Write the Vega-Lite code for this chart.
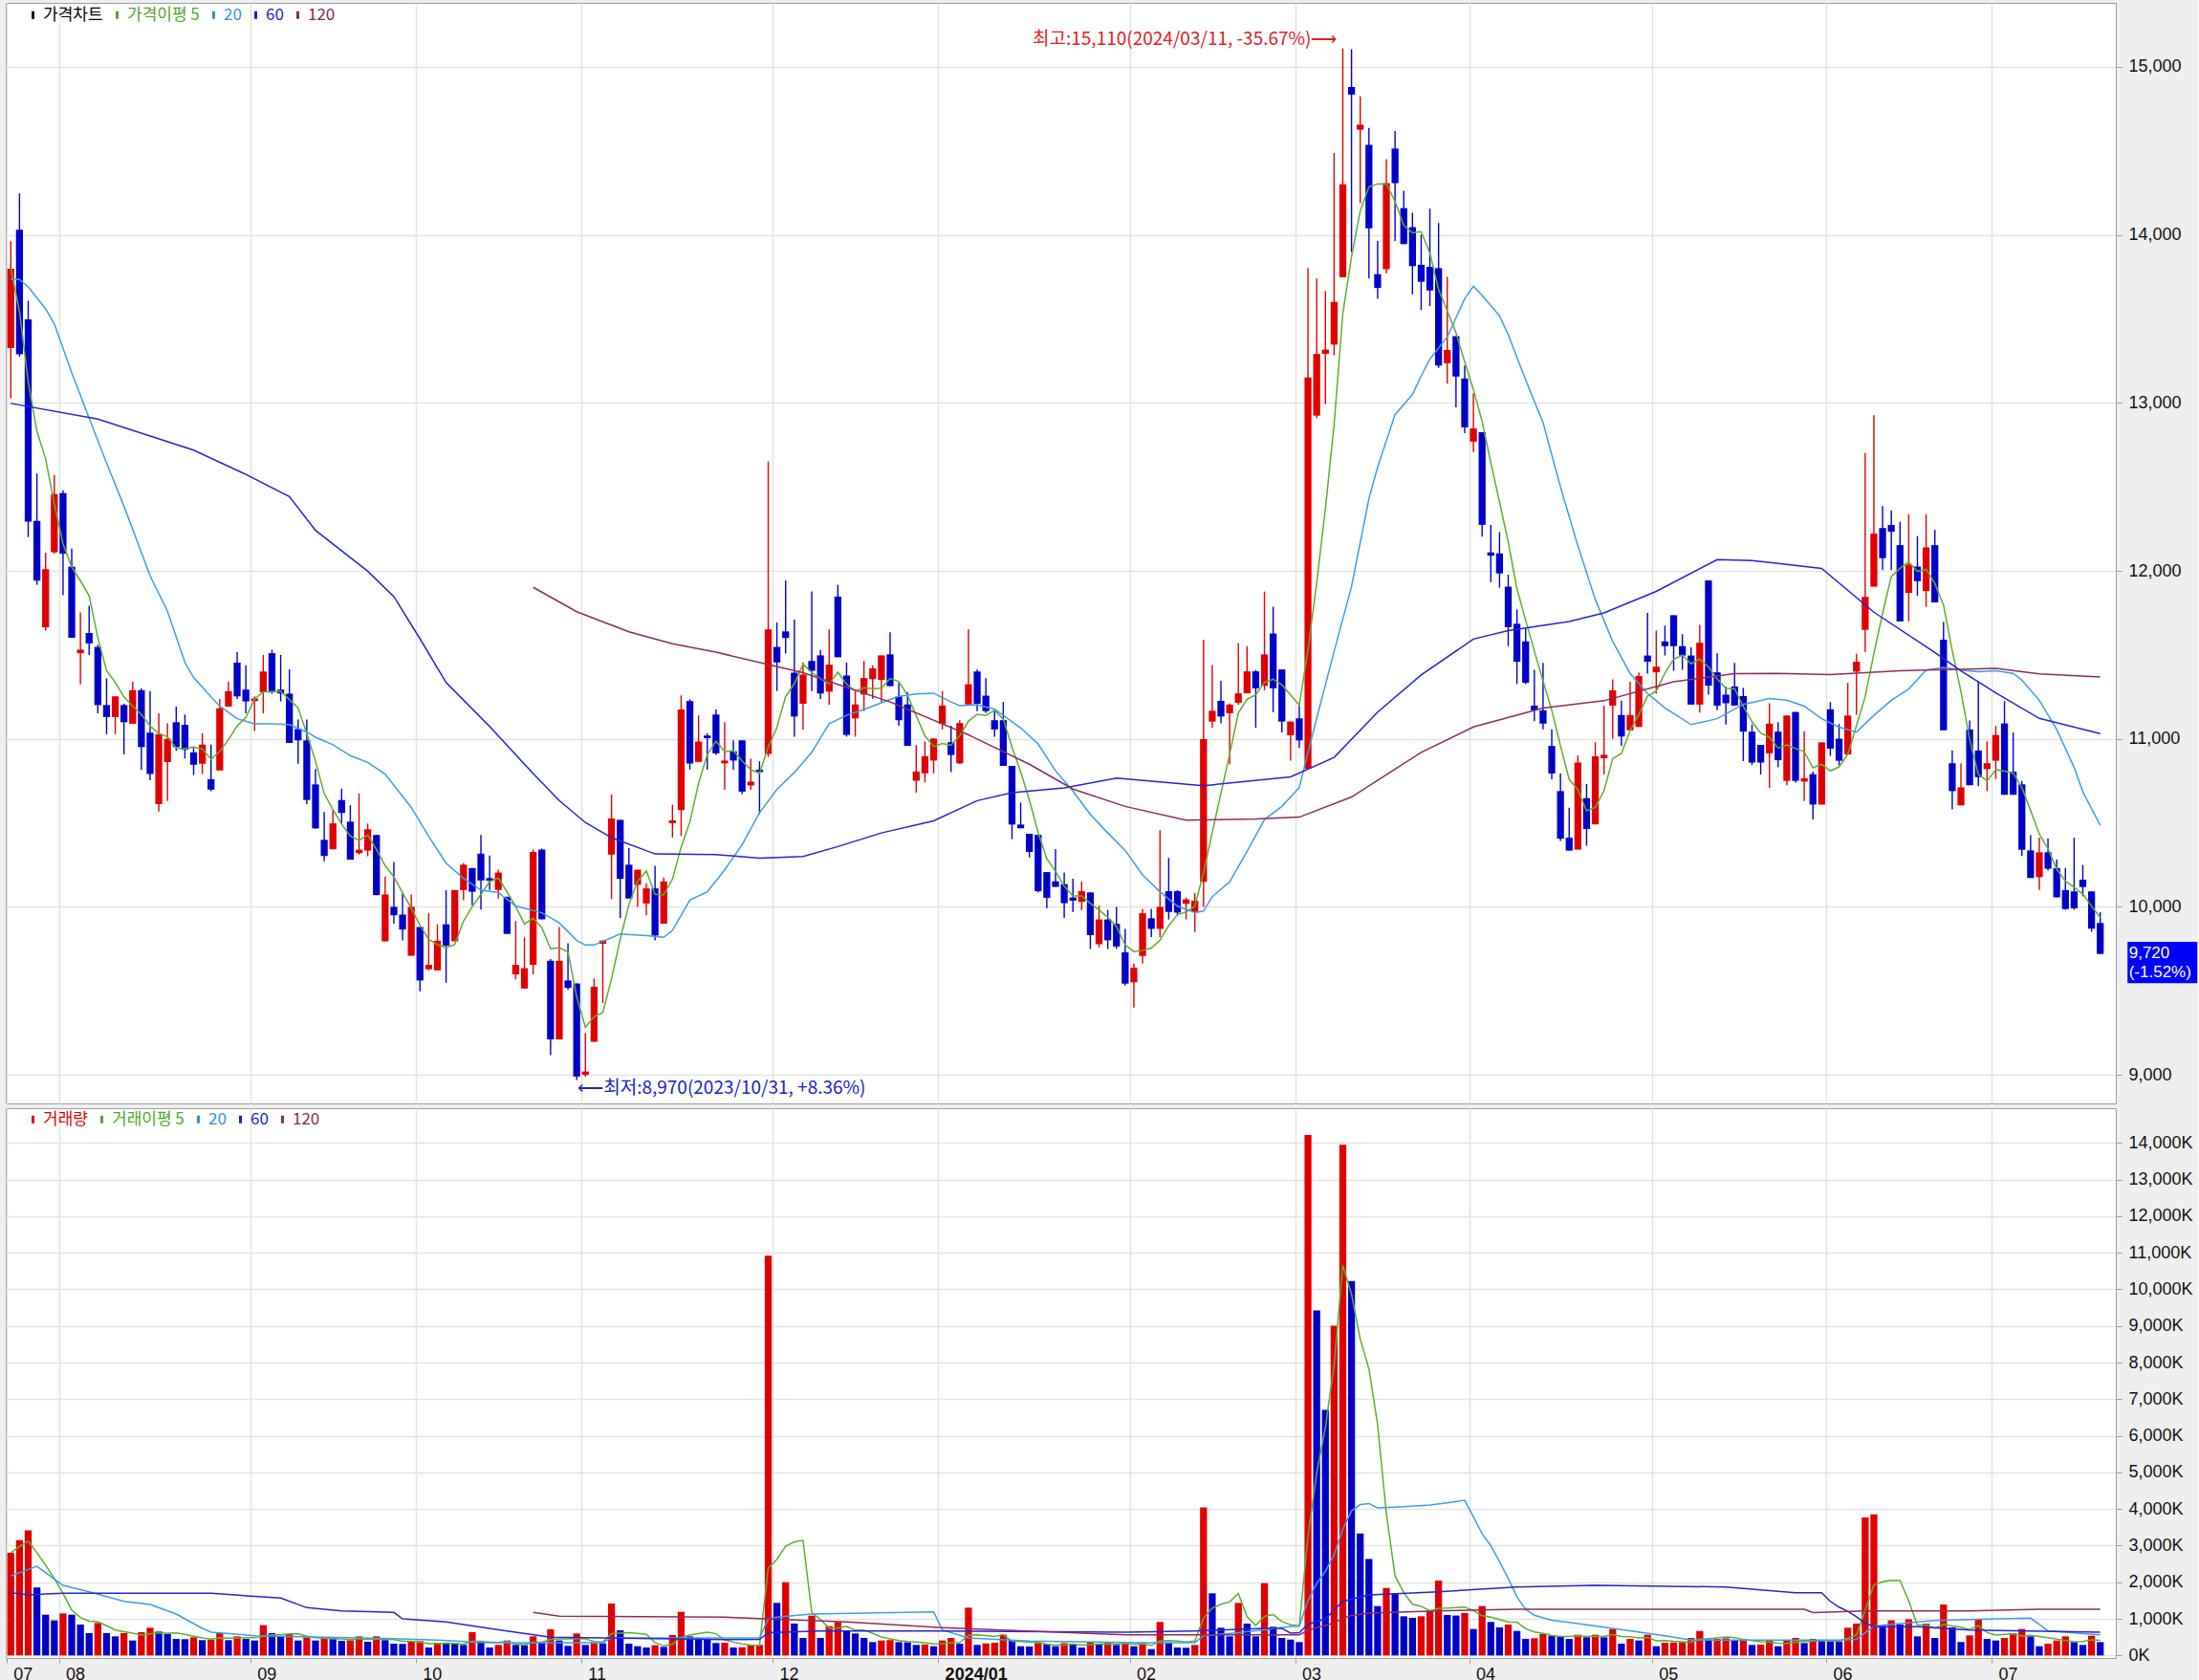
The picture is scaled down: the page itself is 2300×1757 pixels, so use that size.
{
"$schema":"https://vega.github.io/schema/vega-lite/v6.json",
"background":"#efefef",
"padding":{"left":5,"top":2,"right":0,"bottom":0},
"config":{
"view":{"stroke":"#9c9c9c","strokeWidth":1,"fill":"#ffffff"},
"axis":{"gridColor":"#e4e4e4","gridWidth":1.5,"domain":false,"tickColor":"#9c9c9c","labelColor":"#111111","labelFont":"Liberation Sans Narrow, Liberation Sans, sans-serif","labelFontSize":18,"title":null}
},
"data":{"values":[
{"d":"2023-07-24","o":13327,"h":13963,"l":13028,"c":13799,"v":2801,"m20":13738,"m60":12997,"w20":2175,"w60":1714},
{"d":"2023-07-25","o":14031,"h":14247,"l":13275,"c":13290,"v":3149,"m20":13735},
{"d":"2023-07-26","o":13497,"h":13608,"l":12201,"c":12293,"v":3419,"m20":13691,"w60":1653},
{"d":"2023-07-27","o":12297,"h":12580,"l":11917,"c":11942,"v":1853,"w20":2436},
{"d":"2023-07-28","o":11664,"h":12108,"l":11645,"c":12010,"v":1114,"m20":13560,"w60":1679},
{"d":"2023-07-31","o":12111,"h":12571,"l":12102,"c":12457,"v":957,"m20":13470,"w20":2088},
{"d":"2023-08-01","o":12463,"h":12480,"l":11855,"c":12102,"v":1148,"w20":1914,"w60":1697},
{"d":"2023-08-02","o":12025,"h":12133,"l":11602,"c":11602,"v":1114,"m20":13180},
{"d":"2023-08-03","o":11510,"h":11753,"l":11324,"c":11531,"v":844},
{"d":"2023-08-04","o":11630,"h":11793,"l":11500,"c":11568,"v":609,"m20":12910,"w20":1740},
{"d":"2023-08-07","o":11547,"h":11560,"l":11152,"c":11201,"v":887,"m60":12904},
{"d":"2023-08-08","o":11201,"h":11361,"l":11028,"c":11130,"v":609,"m20":12642},
{"d":"2023-08-09","o":11130,"h":11253,"l":11028,"c":11253,"v":522},
{"d":"2023-08-10","o":11201,"h":11210,"l":10908,"c":11099,"v":609,"m20":12385,"w20":1479},
{"d":"2023-08-11","o":11090,"h":11340,"l":11090,"c":11290,"v":409},
{"d":"2023-08-14","o":11290,"h":11300,"l":10815,"c":10951,"v":635,"m20":12110},
{"d":"2023-08-16","o":11037,"h":11284,"l":10754,"c":10791,"v":757,"m20":11970,"w20":1392},
{"d":"2023-08-17","o":10612,"h":11152,"l":10568,"c":11028,"v":652},
{"d":"2023-08-18","o":10862,"h":11093,"l":10630,"c":11000,"v":583,"m20":11760},
{"d":"2023-08-21","o":11099,"h":11192,"l":10929,"c":10951,"v":452,"w20":1131},
{"d":"2023-08-22","o":11084,"h":11145,"l":10883,"c":10935,"v":445,"m20":11455},
{"d":"2023-08-23","o":10920,"h":10954,"l":10785,"c":10846,"v":496,"m20":11365,"m60":12719},
{"d":"2023-08-24","o":10852,"h":11034,"l":10791,"c":10966,"v":418,"w20":740},
{"d":"2023-08-25","o":10760,"h":10966,"l":10689,"c":10698,"v":430,"m20":11250,"w20":635,"w60":1697},
{"d":"2023-08-28","o":10812,"h":11238,"l":10812,"c":11182,"v":609,"m20":11195},
{"d":"2023-08-29","o":11192,"h":11340,"l":11192,"c":11284,"v":418},
{"d":"2023-08-30","o":11454,"h":11516,"l":11238,"c":11253,"v":522,"m20":11120},
{"d":"2023-08-31","o":11293,"h":11438,"l":11152,"c":11223,"v":452,"m60":12574},
{"d":"2023-09-01","o":11225,"h":11253,"l":11047,"c":11240,"v":409,"m20":11090,"w20":539},
{"d":"2023-09-04","o":11278,"h":11500,"l":11152,"c":11401,"v":827},
{"d":"2023-09-05","o":11510,"h":11531,"l":11269,"c":11284,"v":609,"m20":11090},
{"d":"2023-09-06","o":11293,"h":11500,"l":11223,"c":11270,"v":522,"w60":1566},
{"d":"2023-09-07","o":11269,"h":11414,"l":10976,"c":10976,"v":583,"m20":11085,"m60":12442},
{"d":"2023-09-08","o":11059,"h":11115,"l":10852,"c":10991,"v":409},
{"d":"2023-09-11","o":10991,"h":11115,"l":10612,"c":10636,"v":496,"m20":11040,"w60":1305},
{"d":"2023-09-12","o":10729,"h":10821,"l":10467,"c":10467,"v":409,"m20":11010,"m60":12241},
{"d":"2023-09-13","o":10399,"h":10565,"l":10272,"c":10303,"v":478,"w20":496},
{"d":"2023-09-14","o":10343,"h":10575,"l":10343,"c":10497,"v":470,"m20":10965},
{"d":"2023-09-15","o":10636,"h":10704,"l":10497,"c":10559,"v":400,"w60":1218},
{"d":"2023-09-18","o":10507,"h":10605,"l":10281,"c":10281,"v":415,"m20":10900},
{"d":"2023-09-19","o":10320,"h":10675,"l":10310,"c":10340,"v":522},
{"d":"2023-09-20","o":10335,"h":10496,"l":10301,"c":10462,"v":374,"m20":10860,"m60":11998},
{"d":"2023-09-21","o":10428,"h":10430,"l":10070,"c":10070,"v":522},
{"d":"2023-09-22","o":9795,"h":10181,"l":9795,"c":10074,"v":418,"m20":10790},
{"d":"2023-09-25","o":10000,"h":10267,"l":9900,"c":9950,"v":322,"m60":11847,"w20":461,"w60":1175},
{"d":"2023-09-26","o":9954,"h":10080,"l":9800,"c":9865,"v":315,"w60":1000},
{"d":"2023-09-27","o":9709,"h":10074,"l":9709,"c":10000,"v":374,"m20":10592},
{"d":"2023-10-04","o":9880,"h":9880,"l":9498,"c":9562,"v":391,"m60":11596},
{"d":"2023-10-05","o":9629,"h":9964,"l":9622,"c":9655,"v":217,"m20":10420},
{"d":"2023-10-06","o":9622,"h":9896,"l":9622,"c":9799,"v":348,"w20":418},
{"d":"2023-10-10","o":9896,"h":10100,"l":9548,"c":9769,"v":340,"m20":10260,"m60":11335,"w60":914},
{"d":"2023-10-11","o":9795,"h":10100,"l":9795,"c":10100,"v":335},
{"d":"2023-10-12","o":10100,"h":10261,"l":10040,"c":10251,"v":287,"m20":10170},
{"d":"2023-10-13","o":10231,"h":10231,"l":10010,"c":10090,"v":635},
{"d":"2023-10-16","o":10317,"h":10428,"l":9984,"c":10157,"v":348,"m20":10100},
{"d":"2023-10-17","o":10171,"h":10305,"l":10100,"c":10155,"v":217,"m60":11074,"w20":348},
{"d":"2023-10-18","o":10100,"h":10221,"l":10050,"c":10205,"v":287,"m20":10085},
{"d":"2023-10-19","o":10060,"h":10060,"l":9839,"c":9839,"v":409,"w60":670},
{"d":"2023-10-20","o":9598,"h":9916,"l":9568,"c":9655,"v":287,"m20":10005},
{"d":"2023-10-23","o":9514,"h":9819,"l":9514,"c":9635,"v":280},
{"d":"2023-10-24","o":9655,"h":10341,"l":9598,"c":10327,"v":522,"m60":10793,"m120":11902,"w120":1175},
{"d":"2023-10-25","o":10341,"h":10347,"l":9926,"c":9926,"v":348,"m20":9965},
{"d":"2023-10-26","o":9679,"h":9689,"l":9117,"c":9211,"v":713,"w60":496},
{"d":"2023-10-27","o":9211,"h":9880,"l":9211,"c":9679,"v":409,"m20":9905,"m60":10633,"w120":1070},
{"d":"2023-10-30","o":9562,"h":9783,"l":9508,"c":9518,"v":261},
{"d":"2023-10-31","o":9544,"h":9544,"l":8970,"c":8990,"v":600,"m20":9800,"m120":11757},
{"d":"2023-11-01","o":9000,"h":9250,"l":8990,"c":9020,"v":287,"m20":9773,"m60":10502},
{"d":"2023-11-02","o":9197,"h":9574,"l":9197,"c":9524,"v":339,"m20":9773,"w20":348},
{"d":"2023-11-03","o":9780,"h":9800,"l":9428,"c":9800,"v":330,"w20":348,"w60":478},
{"d":"2023-11-06","o":10311,"h":10669,"l":10046,"c":10526,"v":1418,"m60":10412,"w20":478},
{"d":"2023-11-07","o":10518,"h":10518,"l":9934,"c":10167,"v":687,"m20":9839},
{"d":"2023-11-08","o":10251,"h":10351,"l":10050,"c":10050,"v":322,"m120":11637},
{"d":"2023-11-09","o":10131,"h":10221,"l":10000,"c":10221,"v":252},
{"d":"2023-11-10","o":10020,"h":10141,"l":9950,"c":10110,"v":217,"m20":9829},
{"d":"2023-11-13","o":10110,"h":10245,"l":9800,"c":9829,"v":278,"m60":10315},
{"d":"2023-11-14","o":9900,"h":10175,"l":9900,"c":10151,"v":235,"m20":9819},
{"d":"2023-11-15","o":10498,"h":10608,"l":10412,"c":10515,"v":557,"m20":9860,"m120":11566},
{"d":"2023-11-16","o":10576,"h":11259,"l":10422,"c":11175,"v":1192},
{"d":"2023-11-17","o":11225,"h":11235,"l":10817,"c":10853,"v":522,"m20":10040},
{"d":"2023-11-20","o":10863,"h":11139,"l":10863,"c":10984,"v":461},
{"d":"2023-11-21","o":11020,"h":11034,"l":10817,"c":11004,"v":455,"m20":10090},
{"d":"2023-11-22","o":11145,"h":11175,"l":10904,"c":10914,"v":339,"m60":10311,"m120":11516},
{"d":"2023-11-23","o":10854,"h":11100,"l":10697,"c":10871,"v":350,"m20":10220,"w60":435,"w120":1044},
{"d":"2023-11-24","o":10926,"h":10991,"l":10817,"c":10871,"v":217},
{"d":"2023-11-27","o":10991,"h":10991,"l":10671,"c":10686,"v":225,"m20":10370},
{"d":"2023-11-28","o":10723,"h":10882,"l":10697,"c":10745,"v":278},
{"d":"2023-11-29","o":10817,"h":10867,"l":10551,"c":10802,"v":287,"m20":10560,"m60":10290,"w20":478,"w60":440},
{"d":"2023-11-30","o":10910,"h":12652,"l":10893,"c":11651,"v":10920,"w20":1000,"w60":620},
{"d":"2023-12-01","o":11547,"h":11693,"l":11285,"c":11455,"v":1436,"m20":10700,"w20":1044},
{"d":"2023-12-04","o":11640,"h":11943,"l":11508,"c":11601,"v":2001},
{"d":"2023-12-05","o":11394,"h":11710,"l":11013,"c":11133,"v":870,"m20":10800},
{"d":"2023-12-06","o":11209,"h":11455,"l":11056,"c":11383,"v":478,"m60":10300,"m120":11394},
{"d":"2023-12-07","o":11464,"h":11878,"l":11285,"c":11405,"v":1088,"m20":10920,"w20":1131},
{"d":"2023-12-08","o":11497,"h":11529,"l":11237,"c":11270,"v":478,"w60":670},
{"d":"2023-12-11","o":11281,"h":11651,"l":11203,"c":11442,"v":800,"m20":11090},
{"d":"2023-12-12","o":11847,"h":11917,"l":11486,"c":11486,"v":914,"m60":10359},
{"d":"2023-12-13","o":11377,"h":11455,"l":11013,"c":11024,"v":670,"m20":11140,"w120":914},
{"d":"2023-12-14","o":11122,"h":11285,"l":11013,"c":11205,"v":600},
{"d":"2023-12-15","o":11264,"h":11464,"l":11165,"c":11362,"v":478,"m20":11175},
{"d":"2023-12-18","o":11355,"h":11438,"l":11237,"c":11420,"v":365},
{"d":"2023-12-19","o":11351,"h":11497,"l":11220,"c":11497,"v":409,"m20":11215,"m60":10440},
{"d":"2023-12-20","o":11503,"h":11634,"l":11314,"c":11314,"v":420,"m120":11220},
{"d":"2023-12-21","o":11253,"h":11333,"l":11078,"c":11111,"v":365,"m20":11253},
{"d":"2023-12-22","o":11205,"h":11279,"l":10958,"c":10958,"v":360},
{"d":"2023-12-26","o":10751,"h":10963,"l":10680,"c":10806,"v":287,"m20":11268},
{"d":"2023-12-27","o":10795,"h":10985,"l":10741,"c":10897,"v":300},
{"d":"2023-12-28","o":10871,"h":11002,"l":10795,"c":11002,"v":252,"m20":11272,"m60":10512,"w20":1192},
{"d":"2024-01-02","o":11089,"h":11285,"l":11056,"c":11198,"v":409,"w20":696,"w60":670,"w120":757},
{"d":"2024-01-03","o":10980,"h":11078,"l":10802,"c":10904,"v":478,"m20":11220},
{"d":"2024-01-04","o":10854,"h":11111,"l":10850,"c":11094,"v":322,"m20":11198},
{"d":"2024-01-05","o":11205,"h":11651,"l":11205,"c":11325,"v":1305,"m120":11024,"w20":478},
{"d":"2024-01-08","o":11401,"h":11412,"l":11165,"c":11209,"v":287,"m20":11203,"m60":10632},
{"d":"2024-01-09","o":11257,"h":11362,"l":11155,"c":11165,"v":330},
{"d":"2024-01-10","o":11111,"h":11165,"l":11013,"c":11056,"v":345,"m20":11176},
{"d":"2024-01-11","o":11111,"h":11220,"l":10839,"c":10839,"v":565,"m20":11140},
{"d":"2024-01-12","o":10839,"h":10839,"l":10403,"c":10490,"v":409,"m60":10680},
{"d":"2024-01-15","o":10490,"h":10621,"l":10468,"c":10468,"v":252,"m20":11065},
{"d":"2024-01-16","o":10435,"h":10435,"l":10294,"c":10327,"v":245,"m120":10849,"w20":391},
{"d":"2024-01-17","o":10429,"h":10429,"l":10087,"c":10093,"v":339,"m20":10970},
{"d":"2024-01-18","o":10207,"h":10207,"l":9993,"c":10054,"v":304},
{"d":"2024-01-19","o":10152,"h":10344,"l":10119,"c":10119,"v":252,"m20":10810},
{"d":"2024-01-22","o":10135,"h":10205,"l":9934,"c":10022,"v":339,"m60":10708},
{"d":"2024-01-23","o":10056,"h":10168,"l":9970,"c":10037,"v":304,"m20":10690,"m120":10701},
{"d":"2024-01-24","o":10030,"h":10150,"l":9981,"c":10093,"v":217},
{"d":"2024-01-25","o":10086,"h":10086,"l":9749,"c":9832,"v":374,"m20":10550},
{"d":"2024-01-26","o":9778,"h":10007,"l":9759,"c":9925,"v":304},
{"d":"2024-01-29","o":9925,"h":9981,"l":9749,"c":9801,"v":365,"m20":10440},
{"d":"2024-01-30","o":9899,"h":10000,"l":9749,"c":9764,"v":287,"m60":10766},
{"d":"2024-01-31","o":9730,"h":9869,"l":9532,"c":9543,"v":322,"m20":10336,"m120":10598,"w60":635,"w120":566},
{"d":"2024-02-01","o":9551,"h":9663,"l":9401,"c":9637,"v":252},
{"d":"2024-02-02","o":9708,"h":9988,"l":9663,"c":9962,"v":339,"m20":10190,"w20":348},
{"d":"2024-02-05","o":9932,"h":9988,"l":9820,"c":9869,"v":174},
{"d":"2024-02-06","o":9869,"h":10456,"l":9820,"c":10000,"v":914,"m20":10090},
{"d":"2024-02-07","o":10093,"h":10291,"l":9925,"c":9970,"v":339},
{"d":"2024-02-08","o":10093,"h":10100,"l":9950,"c":9966,"v":217,"m20":10005},
{"d":"2024-02-13","o":10018,"h":10056,"l":9925,"c":10045,"v":210,"m120":10516},
{"d":"2024-02-14","o":9970,"h":10082,"l":9850,"c":10037,"v":287,"m20":9965,"w20":350,"w60":670},
{"d":"2024-02-15","o":10149,"h":11589,"l":10000,"c":10998,"v":4046,"m20":9975,"m60":10721,"w20":540},
{"d":"2024-02-16","o":11103,"h":11440,"l":11066,"c":11167,"v":1697,"m20":10060},
{"d":"2024-02-19","o":11226,"h":11346,"l":11092,"c":11133,"v":757},
{"d":"2024-02-20","o":11152,"h":11210,"l":10849,"c":11204,"v":522,"m20":10149},
{"d":"2024-02-21","o":11215,"h":11570,"l":11204,"c":11271,"v":1436,"w20":620},
{"d":"2024-02-22","o":11271,"h":11552,"l":11271,"c":11402,"v":870,"m20":10330},
{"d":"2024-02-23","o":11402,"h":11410,"l":11066,"c":11301,"v":522,"m120":10523},
{"d":"2024-02-26","o":11316,"h":11877,"l":11290,"c":11503,"v":1975,"m20":10520,"w20":700,"w60":740},
{"d":"2024-02-27","o":11627,"h":11787,"l":11159,"c":11301,"v":783},
{"d":"2024-02-28","o":11413,"h":11413,"l":11039,"c":11103,"v":478,"m20":10598,"w60":740},
{"d":"2024-02-29","o":11021,"h":11103,"l":10871,"c":11103,"v":435,"m60":10774,"w20":790,"w60":609,"w120":566},
{"d":"2024-03-04","o":11122,"h":11196,"l":10946,"c":10991,"v":365,"m20":10710,"m120":10534,"w20":800,"w60":620,"w120":566},
{"d":"2024-03-05","o":10822,"h":13803,"l":10822,"c":13152,"v":14215,"m20":10920,"w20":1500,"w60":850,"w120":685},
{"d":"2024-03-06","o":12924,"h":13740,"l":12909,"c":13291,"v":9425,"m20":11122,"w20":1970,"w120":763},
{"d":"2024-03-07","o":13291,"h":13665,"l":12992,"c":13317,"v":6705,"w20":2300,"w60":1000,"w120":819},
{"d":"2024-03-08","o":13347,"h":14488,"l":13283,"c":13601,"v":9004,"m20":11520,"m60":10890,"w20":2750,"w120":894},
{"d":"2024-03-11","o":13747,"h":15110,"l":13747,"c":14301,"v":13946,"w20":3450,"w60":1479,"w120":1010},
{"d":"2024-03-12","o":14880,"h":15105,"l":13897,"c":14835,"v":10230,"m20":11907,"m120":10654,"w20":3950,"w120":1095},
{"d":"2024-03-13","o":14626,"h":14824,"l":14188,"c":14656,"v":3332,"w20":4120},
{"d":"2024-03-14","o":14536,"h":14637,"l":13740,"c":14039,"v":2636,"m20":12430,"w20":4150,"w60":1653,"w120":1157},
{"d":"2024-03-15","o":13766,"h":13964,"l":13620,"c":13684,"v":1349,"m20":12618,"m60":11159,"w20":4030},
{"d":"2024-03-18","o":13796,"h":14450,"l":13770,"c":14308,"v":1844},
{"d":"2024-03-19","o":14514,"h":14619,"l":13964,"c":14308,"v":1697,"m20":12930},
{"d":"2024-03-20","o":14159,"h":14263,"l":13945,"c":13945,"v":1070,"w20":4060},
{"d":"2024-03-21","o":14046,"h":14132,"l":13646,"c":13814,"v":1027,"m20":13050},
{"d":"2024-03-22","o":13822,"h":14001,"l":13553,"c":13721,"v":1070,"m20":13160,"m60":11380,"m120":10920},
{"d":"2024-03-25","o":13810,"h":14156,"l":13576,"c":13669,"v":1218,"m20":13260,"w20":4110},
{"d":"2024-03-26","o":13802,"h":14071,"l":13208,"c":13222,"v":2045,"w60":1740,"w120":1218},
{"d":"2024-03-27","o":13236,"h":13751,"l":13114,"c":13315,"v":1105,"m20":13392,"w20":4170},
{"d":"2024-03-28","o":13397,"h":13397,"l":12973,"c":13157,"v":1090},
{"d":"2024-03-29","o":13145,"h":13222,"l":12820,"c":12854,"v":1157,"m20":13620,"w20":4237,"w60":1784},
{"d":"2024-04-01","o":12769,"h":13058,"l":12707,"c":12848,"v":722,"m20":13694,"m60":11594,"m120":11071,"w20":3785},
{"d":"2024-04-02","o":12826,"h":12826,"l":12203,"c":12274,"v":1349,"m20":13640,"w20":3320},
{"d":"2024-04-03","o":12110,"h":12274,"l":11934,"c":12090,"v":914,"w20":3000},
{"d":"2024-04-04","o":12104,"h":12231,"l":11900,"c":11985,"v":766,"m20":13519,"w20":2567},
{"d":"2024-04-05","o":11906,"h":11977,"l":11552,"c":11665,"v":844,"m20":13406,"m60":11645,"w20":2100},
{"d":"2024-04-08","o":11685,"h":11770,"l":11326,"c":11459,"v":670,"w20":1600,"w60":1871,"w120":1262},
{"d":"2024-04-09","o":11580,"h":11657,"l":11326,"c":11334,"v":452,"m20":13137,"w20":1262},
{"d":"2024-04-11","o":11198,"h":11411,"l":11105,"c":11170,"v":470,"w20":1100},
{"d":"2024-04-12","o":11170,"h":11453,"l":11057,"c":11091,"v":583,"m20":12882,"m120":11184},
{"d":"2024-04-15","o":10958,"h":11057,"l":10760,"c":10794,"v":539,"w20":960},
{"d":"2024-04-16","o":10689,"h":10794,"l":10392,"c":10406,"v":530,"m20":12500},
{"d":"2024-04-17","o":10412,"h":10590,"l":10335,"c":10335,"v":452,"m60":11699,"w20":900},
{"d":"2024-04-18","o":10341,"h":10901,"l":10341,"c":10859,"v":566,"m20":12150},
{"d":"2024-04-19","o":10647,"h":10731,"l":10364,"c":10463,"v":496},
{"d":"2024-04-22","o":10491,"h":10980,"l":10491,"c":10896,"v":566,"m20":11830,"w60":1914},
{"d":"2024-04-23","o":10885,"h":11198,"l":10788,"c":10905,"v":496,"m60":11750,"m120":11227},
{"d":"2024-04-24","o":11198,"h":11354,"l":11000,"c":11289,"v":722,"m20":11580,"w20":740},
{"d":"2024-04-25","o":11142,"h":11227,"l":10958,"c":11014,"v":322},
{"d":"2024-04-26","o":11051,"h":11340,"l":11051,"c":11142,"v":452,"m20":11390},
{"d":"2024-04-29","o":11071,"h":11396,"l":11071,"c":11374,"v":409},
{"d":"2024-04-30","o":11496,"h":11750,"l":11388,"c":11459,"v":566,"m20":11270},
{"d":"2024-05-02","o":11396,"h":11645,"l":11269,"c":11430,"v":252,"m60":11878},
{"d":"2024-05-03","o":11580,"h":11674,"l":11496,"c":11552,"v":348,"m20":11184,"w20":539},
{"d":"2024-05-07","o":11736,"h":11736,"l":11405,"c":11552,"v":355,"m120":11340},
{"d":"2024-05-08","o":11552,"h":11623,"l":11411,"c":11496,"v":365},
{"d":"2024-05-09","o":11496,"h":11546,"l":11204,"c":11204,"v":478,"m20":11085,"w20":418},
{"d":"2024-05-10","o":11204,"h":11679,"l":11156,"c":11572,"v":670},
{"d":"2024-05-13","o":11943,"h":11943,"l":11263,"c":11317,"v":440},
{"d":"2024-05-14","o":11396,"h":11510,"l":11170,"c":11198,"v":452,"m20":11120,"m60":12067},
{"d":"2024-05-16","o":11263,"h":11312,"l":11085,"c":11212,"v":470,"w60":1871},
{"d":"2024-05-17","o":11312,"h":11453,"l":11198,"c":11198,"v":409,"m120":11388},
{"d":"2024-05-20","o":11255,"h":11304,"l":10868,"c":11043,"v":418,"m20":11205},
{"d":"2024-05-21","o":11043,"h":11085,"l":10845,"c":10859,"v":287,"m60":12061},
{"d":"2024-05-22","o":10964,"h":10964,"l":10788,"c":10859,"v":300},
{"d":"2024-05-23","o":10913,"h":11212,"l":10709,"c":11091,"v":409,"m20":11240},
{"d":"2024-05-24","o":11043,"h":11100,"l":10831,"c":10873,"v":252,"m60":12045,"m120":11390},
{"d":"2024-05-27","o":10750,"h":11139,"l":10724,"c":11139,"v":409,"m20":11230},
{"d":"2024-05-28","o":11160,"h":11160,"l":10739,"c":10750,"v":478,"w60":1714},
{"d":"2024-05-29","o":10746,"h":11045,"l":10630,"c":10766,"v":339,"m20":11195,"w120":1262},
{"d":"2024-05-30","o":10790,"h":10805,"l":10521,"c":10609,"v":452,"w120":1170},
{"d":"2024-05-31","o":10609,"h":10979,"l":10609,"c":10979,"v":391,"m20":11120,"m60":12015,"w60":1714},
{"d":"2024-06-03","o":11176,"h":11219,"l":10899,"c":10942,"v":385,"m120":11383,"w60":1477},
{"d":"2024-06-04","o":11001,"h":11088,"l":10842,"c":10870,"v":380,"m20":11070,"w20":418,"w60":1320},
{"d":"2024-06-05","o":10907,"h":11333,"l":10907,"c":11139,"v":757,"w60":1208},
{"d":"2024-06-07","o":11400,"h":11507,"l":11143,"c":11459,"v":870,"m20":11040,"w20":440,"w60":1058},
{"d":"2024-06-10","o":11649,"h":12702,"l":11518,"c":11845,"v":3767,"w20":620,"w60":889,"w120":1218},
{"d":"2024-06-11","o":11906,"h":12927,"l":11906,"c":12222,"v":3854,"m20":11140,"m60":11754,"w20":800,"w60":783},
{"d":"2024-06-12","o":12255,"h":12386,"l":12004,"c":12076,"v":809},
{"d":"2024-06-13","o":12273,"h":12360,"l":12004,"c":12233,"v":960,"m20":11230,"w20":850},
{"d":"2024-06-14","o":12153,"h":12292,"l":11699,"c":11699,"v":844,"m120":11405},
{"d":"2024-06-17","o":11869,"h":12336,"l":11699,"c":12037,"v":990,"m20":11296},
{"d":"2024-06-18","o":12026,"h":12207,"l":11852,"c":11939,"v":522,"w60":783},
{"d":"2024-06-19","o":11880,"h":12336,"l":11786,"c":12140,"v":870,"m20":11410},
{"d":"2024-06-20","o":12153,"h":12244,"l":11812,"c":11812,"v":478,"m60":11514,"w20":957},
{"d":"2024-06-21","o":11590,"h":11695,"l":11051,"c":11051,"v":1392,"m20":11425},
{"d":"2024-06-24","o":10855,"h":10931,"l":10580,"c":10689,"v":766},
{"d":"2024-06-25","o":10604,"h":10853,"l":10604,"c":10711,"v":365,"m20":11410,"m60":11405},
{"d":"2024-06-26","o":11056,"h":11110,"l":10724,"c":10724,"v":548,"w60":696,"w120":1218},
{"d":"2024-06-27","o":10931,"h":11344,"l":10718,"c":10772,"v":1000,"m20":11400,"w20":990},
{"d":"2024-06-28","o":10820,"h":10986,"l":10689,"c":10855,"v":452},
{"d":"2024-07-01","o":10870,"h":11077,"l":10761,"c":11023,"v":409,"m20":11405,"m60":11274,"m120":11420},
{"d":"2024-07-02","o":11092,"h":11225,"l":10667,"c":10667,"v":478},
{"d":"2024-07-03","o":10805,"h":11038,"l":10667,"c":10667,"v":609,"m20":11390},
{"d":"2024-07-04","o":10729,"h":10750,"l":10303,"c":10340,"v":722,"m20":11350},
{"d":"2024-07-05","o":10336,"h":10428,"l":10172,"c":10172,"v":522,"w20":1018},
{"d":"2024-07-08","o":10177,"h":10412,"l":10100,"c":10325,"v":252,"m20":11230,"m60":11122,"m120":11387,"w20":850,"w120":1262},
{"d":"2024-07-09","o":10325,"h":10406,"l":10216,"c":10227,"v":322,"w20":670},
{"d":"2024-07-10","o":10231,"h":10281,"l":10057,"c":10057,"v":409,"m20":11056},
{"d":"2024-07-11","o":10100,"h":10231,"l":9983,"c":9987,"v":522},
{"d":"2024-07-12","o":10092,"h":10412,"l":9983,"c":9991,"v":365,"m20":10830},
{"d":"2024-07-15","o":10162,"h":10249,"l":10063,"c":10118,"v":287,"m20":10685},
{"d":"2024-07-16","o":10092,"h":10092,"l":9852,"c":9870,"v":539},
{"d":"2024-07-17","o":9904,"h":9969,"l":9720,"c":9720,"v":365,"m20":10485,"m60":11031,"m120":11368,"w20":566,"w60":635,"w120":1262}
]},
"transform":[
{"window":[{"op":"mean","field":"c","as":"m5"},{"op":"mean","field":"v","as":"w5"}],"sort":[{"field":"d"}],"frame":[-4,0]},
{"window":[{"op":"lag","field":"v","as":"pv"}],"sort":[{"field":"d"}]}
],
"spacing":3,
"resolve":{"scale":{"x":"shared","y":"independent","color":"independent"},"legend":{"color":"independent"},"axis":{"x":"independent","y":"independent"}},
"vconcat":[
{
"width":2207,"height":1151,
"layer":[
{"mark":{"type":"rule","strokeWidth":1.4},
"encoding":{
"x":{"field":"d","type":"ordinal","scale":{"type":"band","paddingInner":0.2,"paddingOuter":0.785,"align":0.115},
"axis":{"values":["2023-07-24","2023-08-01","2023-09-01","2023-10-04","2023-11-01","2023-12-01","2024-01-02","2024-02-01","2024-03-04","2024-04-01","2024-05-02","2024-06-03","2024-07-01"],"bandPosition":0,"labels":false,"ticks":false,"domain":false,"grid":true,"title":null,"minExtent":0,"maxExtent":0}},
"y":{"field":"l","type":"quantitative","scale":{"domain":[8830,15381],"nice":false,"zero":false},
"axis":{"orient":"right","values":[9000,10000,11000,12000,13000,14000,15000],"format":",d","tickSize":6,"labelPadding":7,"grid":true,"title":null}},
"y2":{"field":"h"},
"color":{"condition":{"test":"datum.c >= datum.o","value":"#e10000"},"value":"#0000c8"}
}},
{"mark":{"type":"bar"},
"encoding":{
"x":{"field":"d","type":"ordinal"},
"y":{"field":"o","type":"quantitative"},
"y2":{"field":"c"},
"color":{"condition":{"test":"datum.c >= datum.o","value":"#e10000"},"value":"#0000c8"}
}},
{"transform":[{"fold":["m5","m20","m60","m120"],"as":["k","val"]},{"filter":"isValid(datum.val)"}],
"mark":{"type":"line","strokeWidth":1.5},
"encoding":{
"x":{"field":"d","type":"ordinal"},
"y":{"field":"val","type":"quantitative"},
"color":{"field":"k","type":"nominal","scale":{"domain":["m0","m5","m20","m60","m120"],"range":["#000000","#5fae2e","#3d9ee6","#2424d4","#8e2c5c"]},
"legend":{"orient":"none","legendX":20,"legendY":4,"direction":"horizontal","title":null,"padding":0,"columnPadding":6,"labelOffset":2,
"labelExpr":"datum.value == 'm0' ? '가격차트' : datum.value == 'm5' ? '가격이평 5' : datum.value == 'm20' ? '20' : datum.value == 'm60' ? '60' : '120'",
"labelFont":"Noto Sans CJK KR","labelFontSize":17,"symbolSize":100,"symbolType":"M-0.3,-0.8L0.3,-0.8L0.3,0.8L-0.3,0.8Z","symbolStrokeWidth":0,
"encode":{
"labels":{"update":{"fill":{"signal":"datum.value == 'm0' ? '#000000' : datum.value == 'm5' ? '#4fa82a' : datum.value == 'm20' ? '#2b95e0' : datum.value == 'm60' ? '#1c1cd0' : '#86285a'"}}},
"symbols":{"update":{"fill":{"signal":"datum.value == 'm0' ? '#000000' : datum.value == 'm5' ? '#4fa82a' : datum.value == 'm20' ? '#2b95e0' : datum.value == 'm60' ? '#1c1cd0' : '#86285a'"},"stroke":{"value":"transparent"},"opacity":{"value":1}}}
}}}
}},
{"data":{"values":[{"d":"2024-03-11","p":15110,"t":"최고:15,110(2024/03/11, -35.67%)⟶"}]},
"mark":{"type":"text","align":"right","baseline":"middle","dx":-6,"dy":-10,"font":"Noto Sans CJK KR","fontSize":19,"color":"#e02020"},
"encoding":{"x":{"field":"d","type":"ordinal"},"y":{"field":"p","type":"quantitative"},"text":{"field":"t"}}},
{"data":{"values":[{"d":"2023-10-31","p":8970,"t":"⟵최저:8,970(2023/10/31, +8.36%)"}]},
"mark":{"type":"text","align":"left","baseline":"middle","dx":1,"dy":9,"font":"Noto Sans CJK KR","fontSize":19,"color":"#2020c8"},
"encoding":{"x":{"field":"d","type":"ordinal"},"y":{"field":"p","type":"quantitative"},"text":{"field":"t"}}},
{"data":{"values":[{"d":"2024-07-17","p":9720,"t":["9,720","(-1.52%)"]}]},
"layer":[
{"mark":{"type":"point","shape":"M-1,-0.59L1,-0.59L1,0.59L-1,0.59Z","size":5329,"filled":true,"opacity":1,"color":"#0000ff","strokeWidth":0,"xOffset":65,"yOffset":9,"clip":false},
"encoding":{"x":{"field":"d","type":"ordinal"},"y":{"field":"p","type":"quantitative"}}},
{"mark":{"type":"text","align":"left","baseline":"top","dx":30,"dy":-9,"lineHeight":20,"font":"Liberation Sans Narrow, Liberation Sans, sans-serif","fontSize":17,"color":"#ffffff"},
"encoding":{"x":{"field":"d","type":"ordinal"},"y":{"field":"p","type":"quantitative"},"text":{"field":"t"}}}
]}
]
},
{
"width":2207,"height":575,
"layer":[
{"mark":{"type":"bar"},
"encoding":{
"x":{"field":"d","type":"ordinal","scale":{"type":"band","paddingInner":0.2,"paddingOuter":0.785,"align":0.115},
"axis":{"values":["2023-07-24","2023-08-01","2023-09-01","2023-10-04","2023-11-01","2023-12-01","2024-01-02","2024-02-01","2024-03-04","2024-04-01","2024-05-02","2024-06-03","2024-07-01"],"bandPosition":0,"grid":true,"title":null,"labelAngle":0,"labelAlign":"left","labelBaseline":"top","labelOffset":3,"labelPadding":3,"tickSize":5,"labelOverlap":false,"labelFlush":false,
"labelExpr":"datum.value == '2024-01-02' ? '2024/01' : slice(datum.value, 5, 7)",
"labelFontWeight":{"condition":{"test":"datum.value == '2024-01-02'","value":"bold"},"value":"normal"}}},
"y":{"field":"v","type":"quantitative","scale":{"domain":[-70,14948],"nice":false,"zero":false},
"axis":{"orient":"right","values":[0,1000,2000,3000,4000,5000,6000,7000,8000,9000,10000,11000,12000,13000,14000],"labelExpr":"format(datum.value, ',d') + 'K'","tickSize":6,"labelPadding":7,"grid":true,"title":null}},
"y2":{"datum":0},
"color":{"condition":{"test":"datum.pv == null || datum.v > datum.pv","value":"#e10000"},"value":"#0000c8"}
}},
{"transform":[{"fold":["w5","w20","w60","w120"],"as":["k","val"]},{"filter":"isValid(datum.val)"}],
"mark":{"type":"line","strokeWidth":1.5},
"encoding":{
"x":{"field":"d","type":"ordinal"},
"y":{"field":"val","type":"quantitative"},
"color":{"field":"k","type":"nominal","scale":{"domain":["v0","w5","w20","w60","w120"],"range":["#e10000","#5fae2e","#3d9ee6","#2424d4","#8e2c5c"]},
"legend":{"orient":"none","legendX":20,"legendY":3,"direction":"horizontal","title":null,"padding":0,"columnPadding":6,"labelOffset":2,
"labelExpr":"datum.value == 'v0' ? '거래량' : datum.value == 'w5' ? '거래이평 5' : datum.value == 'w20' ? '20' : datum.value == 'w60' ? '60' : '120'",
"labelFont":"Noto Sans CJK KR","labelFontSize":17,"symbolSize":100,"symbolType":"M-0.3,-0.8L0.3,-0.8L0.3,0.8L-0.3,0.8Z","symbolStrokeWidth":0,
"encode":{
"labels":{"update":{"fill":{"signal":"datum.value == 'v0' ? '#e10000' : datum.value == 'w5' ? '#4fa82a' : datum.value == 'w20' ? '#2b95e0' : datum.value == 'w60' ? '#1c1cd0' : '#86285a'"}}},
"symbols":{"update":{"fill":{"signal":"datum.value == 'v0' ? '#e10000' : datum.value == 'w5' ? '#4fa82a' : datum.value == 'w20' ? '#2b95e0' : datum.value == 'w60' ? '#1c1cd0' : '#86285a'"},"stroke":{"value":"transparent"},"opacity":{"value":1}}}
}}}
}}
]
}
]
}
